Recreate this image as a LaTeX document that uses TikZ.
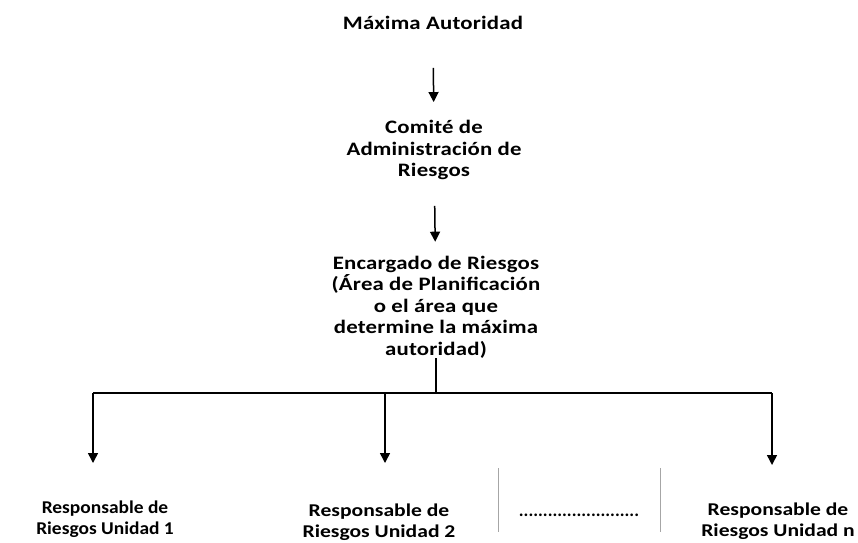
\documentclass[tikz,border=0pt]{standalone}
\usepackage{fontspec}
\setmainfont{Carlito}
\usetikzlibrary{arrows.meta}
\tikzset{
    cargo/.style={align=center, inner sep=0pt,
        font=\fontsize{19}{21.5}\selectfont\bfseries\addfontfeature{FakeStretch=1.2, LetterSpace=1}},
    unidad/.style={align=center, inner sep=0pt,
        font=\fontsize{18}{20.5}\selectfont\bfseries\addfontfeature{FakeStretch=#1}},
    flecha/.style={line width=1.5pt, -{Triangle[width=10pt,length=10pt]}},
    linea/.style={line width=1.5pt},
    marco/.style={gray!70, line width=1pt}
}
\begin{document}
\begin{tikzpicture}[x=1pt, y=-1pt]
    \useasboundingbox (0,0) rectangle (858,542);
    % niveles
    \node[cargo] (max) at (433,23) {Máxima Autoridad};
    \node[cargo] (comite) at (434,150) {Comité de\\Administración de\\Riesgos};
    \node[cargo] (enc) at (436,307) {Encargado de Riesgos\\(Área de Planificación\\o el área que\\determine la máxima\\autoridad)};
    \node[unidad=1.08] (u1) at (105,519) {Responsable de\\Riesgos Unidad 1};
    \node[unidad=1.2] (u2) at (379,522) {Responsable de\\Riesgos Unidad 2};
    \node[unidad=1.2] (un) at (778,521) {Responsable de\\Riesgos Unidad  n};
    \node[unidad=1] (puntos) at (579,515) {.........................};

    \draw[flecha, shorten <=38pt, shorten >=18pt] (max) -- (comite);
    \draw[flecha, shorten <=26pt, shorten >=14pt] (comite) -- (enc);

    % reparto a unidades
    \coordinate (barL) at (93,393);
    \coordinate (barR) at (772,393);
    \coordinate (t1) at (93,463);
    \coordinate (t2) at (385,463);
    \coordinate (tn) at (772,465);
    \draw[linea] (barL) -- (barR);
    \draw[linea] (enc.south) -- (enc.south |- barL);
    \draw[flecha] (barL) -- (t1);
    \draw[flecha] (t2 |- barL) -- (t2);
    \draw[flecha] (barR) -- (tn);

    \draw[marco] (498,468) -- (498,532);
    \draw[marco] (660,468) -- (660,532);
\end{tikzpicture}
\end{document}
